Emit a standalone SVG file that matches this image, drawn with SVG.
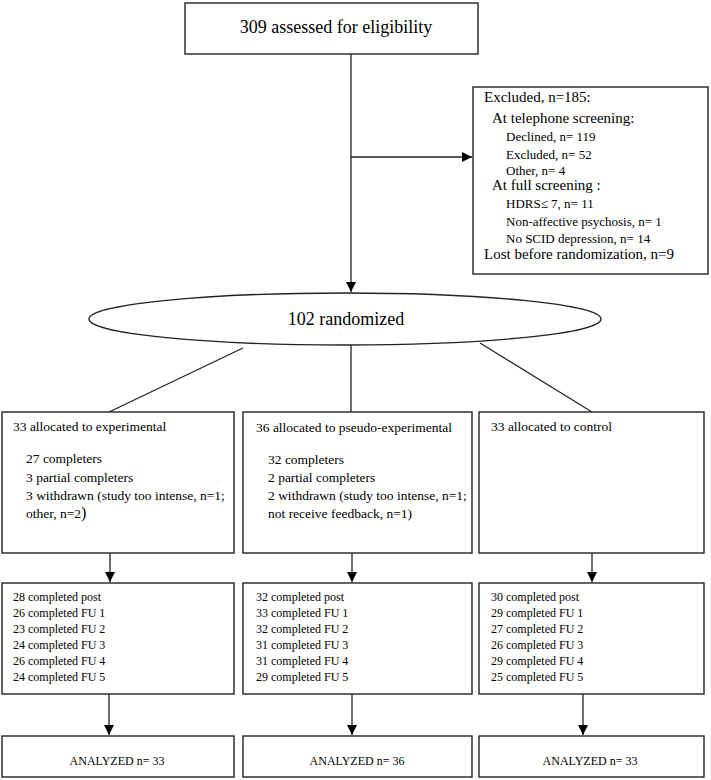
<svg xmlns="http://www.w3.org/2000/svg" width="711" height="780" viewBox="0 0 711 780">
<defs>
<marker id="ah" viewBox="0 0 10 10" refX="10" refY="5" markerWidth="10" markerHeight="10" markerUnits="userSpaceOnUse" orient="auto">
<path d="M0,0 L10,5 L0,10 Z" fill="#000"/>
</marker>
<style>
.box{fill:#fff;stroke:#222;stroke-width:1.4}
.ln{stroke:#222;stroke-width:1.3;fill:none}
.t{font-family:"Liberation Serif","Times New Roman",serif;fill:#000}
.t18{font-size:18px}
.t15{font-size:15px}
.t13{font-size:13px}
.t135{font-size:13.5px}
.t12{font-size:12px}
</style>
</defs>
<rect width="711" height="780" fill="#fff"/>

<g id="connectors">
<line class="ln" x1="351" y1="54" x2="351" y2="292" marker-end="url(#ah)"/>
<line class="ln" x1="351" y1="157" x2="472" y2="157" marker-end="url(#ah)"/>
<line class="ln" x1="243" y1="348" x2="109" y2="412"/>
<line class="ln" x1="351" y1="345" x2="351" y2="412"/>
<line class="ln" x1="480" y1="343" x2="592" y2="412"/>
<line class="ln" x1="110" y1="553" x2="110" y2="582" marker-end="url(#ah)"/>
<line class="ln" x1="352" y1="553" x2="352" y2="582" marker-end="url(#ah)"/>
<line class="ln" x1="592" y1="553" x2="592" y2="582" marker-end="url(#ah)"/>
<line class="ln" x1="109" y1="694" x2="109" y2="735" marker-end="url(#ah)"/>
<line class="ln" x1="352" y1="694" x2="352" y2="735" marker-end="url(#ah)"/>
<line class="ln" x1="583" y1="694" x2="583" y2="735" marker-end="url(#ah)"/>
</g>

<g id="assessed">
<rect class="box" x="185" y="3" width="293" height="51"/>
<text class="t t18" x="336" y="33" text-anchor="middle">309 assessed for eligibility</text>
</g>

<g id="excluded">
<rect class="box" x="473" y="87" width="235" height="187"/>
<text class="t t15" x="484" y="102">Excluded, n=185:</text>
<text class="t t15" x="492" y="123">At telephone screening:</text>
<text class="t t13" x="506" y="140.5">Declined, n= 119</text>
<text class="t t13" x="506" y="158.5">Excluded, n= 52</text>
<text class="t t13" x="506" y="174.5">Other, n= 4</text>
<text class="t t15" x="492" y="190">At full screening :</text>
<text class="t t13" x="506" y="207.5">HDRS≤ 7, n= 11</text>
<text class="t t13" x="506" y="225.5">Non-affective psychosis, n= 1</text>
<text class="t t13" x="506" y="242.5">No SCID depression, n= 14</text>
<text class="t t15" x="484" y="259">Lost before randomization, n=9</text>
</g>

<g id="randomized">
<ellipse class="box" cx="345" cy="319" rx="256" ry="26"/>
<text class="t t18" x="346" y="325" text-anchor="middle">102 randomized</text>
</g>

<g id="alloc-experimental">
<rect class="box" x="2" y="412" width="232" height="141"/>
<text class="t t135" x="13" y="431">33 allocated to experimental</text>
<text class="t t135" x="26" y="463">27 completers</text>
<text class="t t135" x="26" y="481.5">3 partial completers</text>
<text class="t t135" x="26" y="500">3 withdrawn (study too intense, n=1;</text>
<text class="t t135" x="26" y="518">other, n=2<tspan font-size="16">)</tspan></text>
</g>

<g id="alloc-pseudo">
<rect class="box" x="243" y="412" width="229" height="141"/>
<text class="t t135" x="256" y="432">36 allocated to pseudo-experimental</text>
<text class="t t135" x="268" y="464">32 completers</text>
<text class="t t135" x="268" y="482">2 partial completers</text>
<text class="t t135" x="268" y="500">2 withdrawn (study too intense, n=1;</text>
<text class="t t135" x="268" y="518">not receive feedback, n=1)</text>
</g>

<g id="alloc-control">
<rect class="box" x="479" y="412" width="225" height="141"/>
<text class="t t135" x="491" y="431">33 allocated to control</text>
</g>

<g id="fu-experimental">
<rect class="box" x="2" y="583" width="232" height="111"/>
<text class="t t12" x="13" y="601">28 completed post</text>
<text class="t t12" x="13" y="617">26 completed FU 1</text>
<text class="t t12" x="13" y="633">23 completed FU 2</text>
<text class="t t12" x="13" y="648.5">24 completed FU 3</text>
<text class="t t12" x="13" y="664.5">26 completed FU 4</text>
<text class="t t12" x="13" y="680.5">24 completed FU 5</text>
</g>

<g id="fu-pseudo">
<rect class="box" x="243" y="583" width="229" height="111"/>
<text class="t t12" x="256" y="601">32 completed post</text>
<text class="t t12" x="256" y="617">33 completed FU 1</text>
<text class="t t12" x="256" y="633">32 completed FU 2</text>
<text class="t t12" x="256" y="648.5">31 completed FU 3</text>
<text class="t t12" x="256" y="664.5">31 completed FU 4</text>
<text class="t t12" x="256" y="680.5">29 completed FU 5</text>
</g>

<g id="fu-control">
<rect class="box" x="479" y="583" width="225" height="111"/>
<text class="t t12" x="491" y="601">30 completed post</text>
<text class="t t12" x="491" y="617">29 completed FU 1</text>
<text class="t t12" x="491" y="633">27 completed FU 2</text>
<text class="t t12" x="491" y="648.5">26 completed FU 3</text>
<text class="t t12" x="491" y="664.5">29 completed FU 4</text>
<text class="t t12" x="491" y="680.5">25 completed FU 5</text>
</g>

<g id="analyzed-experimental">
<rect class="box" x="2" y="736" width="232" height="41"/>
<text class="t t12" x="117" y="765" text-anchor="middle">ANALYZED n= 33</text>
</g>

<g id="analyzed-pseudo">
<rect class="box" x="243" y="736" width="229" height="41"/>
<text class="t t12" x="357" y="765" text-anchor="middle">ANALYZED n= 36</text>
</g>

<g id="analyzed-control">
<rect class="box" x="479" y="736" width="225" height="41"/>
<text class="t t12" x="590" y="765" text-anchor="middle">ANALYZED n= 33</text>
</g>
</svg>
